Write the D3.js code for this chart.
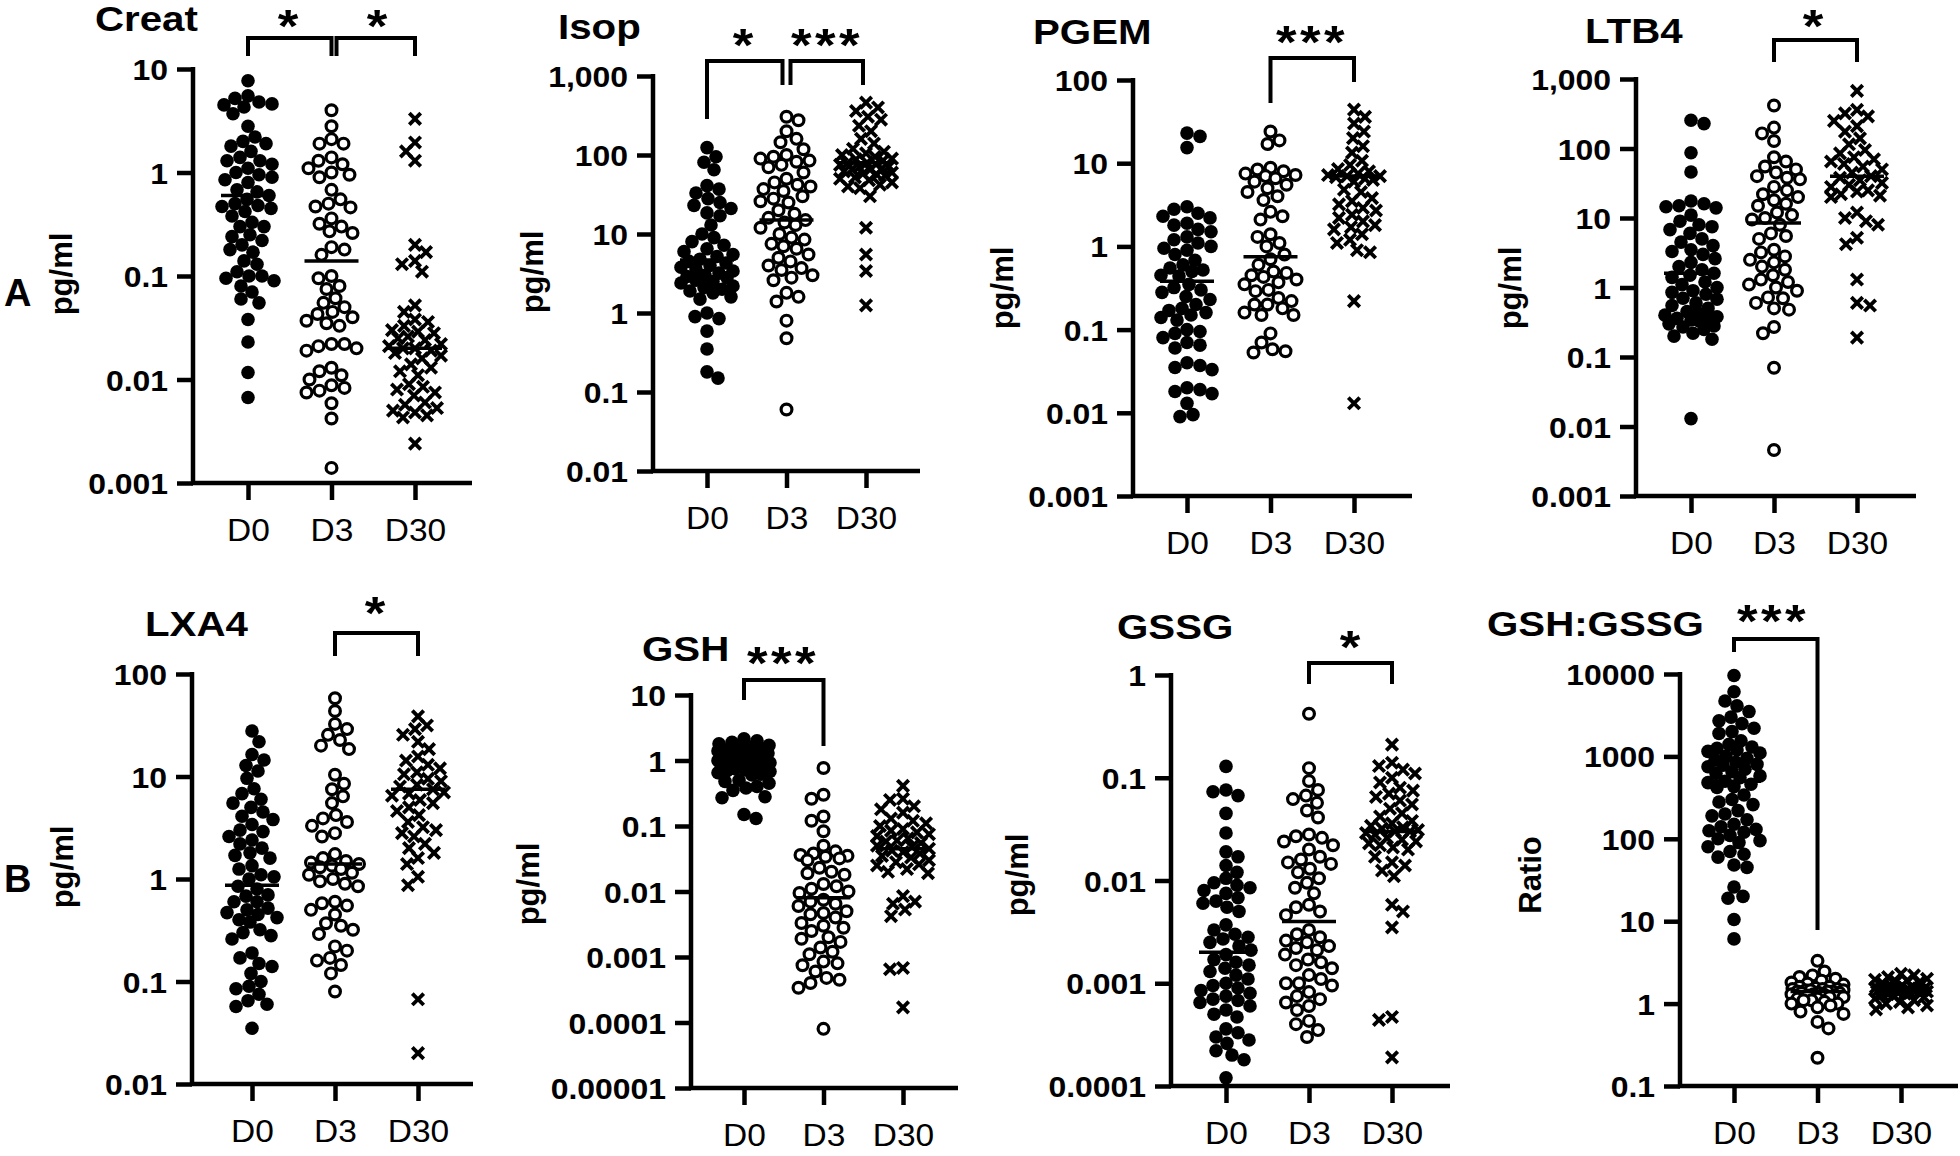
<!DOCTYPE html>
<html><head><meta charset="utf-8">
<script src="https://cdn.jsdelivr.net/npm/d3@7"></script>
<style>body{margin:0;background:#fff}svg{display:block}text{font-family:"Liberation Sans",Arial,sans-serif;fill:#000}</style>
</head><body>
<svg id="chart" width="1960" height="1156"></svg>
<script>
const categories = ["D0","D3","D30"];

// ---- Creat ----
const creatD0 = [7.7,5.5,5.2,4.8,4.6,4.5,4.3,3.7,2.8,2.2,2.0,1.9,1.8,1.6,1.4,1.3,1.3,1.2,1.1,1.0,0.95,0.9,0.85,0.8,0.68,0.65,0.6,0.55,0.5,0.48,0.47,0.45,0.42,0.38,0.33,0.3,0.3,0.25,0.24,0.22,0.2,0.18,0.17,0.14,0.13,0.11,0.1,0.1,0.095,0.09,0.08,0.07,0.06,0.055,0.038,0.023,0.0117,0.0067];
const creatD3 = [4.0,2.8,2.1,1.9,1.9,1.4,1.3,1.2,1.1,1.0,0.95,0.9,0.68,0.55,0.5,0.47,0.46,0.36,0.32,0.3,0.27,0.26,0.19,0.18,0.16,0.1,0.095,0.08,0.075,0.061,0.055,0.05,0.045,0.043,0.04,0.037,0.035,0.033,0.022,0.022,0.021,0.02,0.019,0.013,0.012,0.011,0.01,0.0088,0.0083,0.0078,0.0075,0.0059,0.0042,0.0014];
const creatD30 = [3.3,1.95,1.6,1.3,0.2,0.17,0.14,0.13,0.11,0.052,0.045,0.038,0.036,0.033,0.03,0.029,0.028,0.026,0.025,0.024,0.022,0.021,0.02,0.02,0.019,0.018,0.017,0.016,0.014,0.013,0.012,0.011,0.009,0.0085,0.008,0.0075,0.007,0.006,0.0057,0.0053,0.005,0.0048,0.0045,0.0043,0.0024];
const creatMedian = [0.6,0.14,0.02];
const creatTickValues = [0.001,0.01,0.1,1,10];
const creatTickLabels = ["0.001","0.01","0.1","1","10"];

// ---- Isop ----
const isopD0 = [124,95,81,65,41,37,33,28,25,23,21,18.5,17,13,10,9,8,7.2,6.5,6,5.5,5.2,4.8,4.5,4.3,4.0,3.8,3.6,3.4,3.2,3.0,2.9,2.8,2.6,2.5,2.4,2.2,2.1,2.0,1.9,1.8,1.6,1.5,1.0,0.9,0.85,0.59,0.35,0.18,0.15];
const isopD3 = [305,275,200,160,145,118,100,95,90,85,82,75,70,60,50,45,42,40,37,35,30,28,26,25,20,18,16,15,14,13,12,10,9,8.5,7.5,7,6.5,5.5,5,4.5,4,3.7,3.5,3,2.8,2.6,1.8,1.6,1.4,0.8,0.48,0.06];
const isopD30 = [460,400,360,305,280,235,200,160,140,120,110,105,100,95,90,88,85,80,78,76,75,72,70,68,66,65,62,60,58,56,55,52,50,48,45,42,40,38,30,12,5.5,3.4,1.25];
const isopMedian = [4.7,15,80];
const isopTickValues = [0.01,0.1,1,10,100,1000];
const isopTickLabels = ["0.01","0.1","1","10","100","1,000"];

// ---- PGEM ----
const pgemD0 = [23,21,15.4,3.0,2.8,2.5,2.3,2.2,1.9,1.8,1.6,1.5,1.3,1.2,1.1,1.0,0.95,0.9,0.8,0.68,0.6,0.55,0.52,0.5,0.45,0.44,0.35,0.32,0.3,0.28,0.25,0.23,0.2,0.18,0.17,0.16,0.15,0.14,0.13,0.1,0.095,0.09,0.08,0.07,0.065,0.06,0.04,0.037,0.035,0.033,0.02,0.019,0.018,0.017,0.013,0.0095,0.009];
const pgemD3 = [24,18.8,17,8.8,8.4,8.0,7.5,7.2,7.0,6.6,6,5.5,5,4.5,4,3.6,2.6,2.3,2.1,1.4,1.3,1.1,1.0,0.8,0.7,0.6,0.5,0.48,0.45,0.43,0.4,0.37,0.35,0.3,0.29,0.24,0.22,0.2,0.2,0.18,0.16,0.15,0.15,0.09,0.07,0.058,0.055,0.053];
const pgemD30 = [44,36,30,24,20,16,13.4,10.7,9.5,8.5,8,7.5,7.2,7,7,6.8,6.5,6.3,6.0,4.8,4.5,3.8,3.5,3.2,2.9,2.7,2.4,2.2,2.0,1.8,1.7,1.6,1.4,1.2,1.1,0.9,0.85,0.22,0.013];
const pgemMedian = [0.38,0.75,7];
const pgemTickValues = [0.001,0.01,0.1,1,10,100];
const pgemTickLabels = ["0.001","0.01","0.1","1","10","100"];

// ---- LTB4 ----
const ltb4D0 = [255,228,87,46,17.6,16,15,14.5,14,11,9,8,7.5,6.8,6,5,4.5,4,3.5,3.3,3,2.6,2.3,2,1.8,1.6,1.5,1.4,1.2,1.1,1.0,0.9,0.85,0.8,0.7,0.68,0.6,0.55,0.5,0.45,0.43,0.4,0.38,0.36,0.35,0.34,0.33,0.3,0.28,0.27,0.25,0.22,0.2,0.18,0.013];
const ltb4D3 = [415,200,165,128,75,65,55,50,45,40,38,36,28,25,22,20,18,16,15,12,11,10,9.5,8,6,5.5,5,3.5,3.2,2.8,2.5,2.3,2.0,1.8,1.5,1.3,1.2,1.1,1.0,0.9,0.72,0.7,0.6,0.5,0.48,0.27,0.22,0.07,0.0046];
const ltb4D30 = [675,360,320,290,250,210,175,140,115,95,85,75,70,65,60,55,50,45,40,38,35,32,30,28,25,24,22,21,20,12,10,9,8,5.2,4.2,1.3,0.6,0.55,0.19];
const ltb4Median = [1.6,8.5,40];
const ltb4TickValues = [0.001,0.01,0.1,1,10,100,1000];
const ltb4TickLabels = ["0.001","0.01","0.1","1","10","100","1,000"];

// ---- LXA4 ----
const lxa4D0 = [27.8,21.8,16.4,14.5,12.8,11.3,9.6,7.6,6.8,6.0,5.5,5.0,4.5,4.1,3.8,3.4,3.0,2.9,2.6,2.4,2.2,2.0,1.8,1.7,1.6,1.35,1.25,1.1,1.05,1.0,0.85,0.8,0.7,0.68,0.6,0.6,0.52,0.5,0.47,0.45,0.42,0.4,0.38,0.32,0.3,0.28,0.26,0.19,0.17,0.15,0.14,0.12,0.1,0.09,0.085,0.075,0.065,0.06,0.057,0.035];
const lxa4D3 = [58,43.5,32.6,29,25.5,22.7,20,18.5,10.4,8.5,7.5,6.4,5.5,4.2,3.9,3.6,3.3,2.8,2.6,1.75,1.6,1.5,1.45,1.4,1.35,1.3,1.25,1.15,1.1,1.0,0.95,0.9,0.85,0.6,0.58,0.55,0.5,0.45,0.37,0.35,0.32,0.29,0.22,0.2,0.17,0.16,0.145,0.12,0.08];
const lxa4D30 = [38.6,31.5,29,25.5,21.8,18.5,15.7,14.3,13,12,11,10.5,9.5,9,8.3,8,7.5,7,6.8,6.5,5.9,5.5,5,4.6,4.2,3.6,3.2,3,2.8,2.6,2.2,2.0,1.8,1.6,1.4,1.05,0.87,0.067,0.02];
const lxa4Median = [0.87,1.4,7.5];
const lxa4TickValues = [0.01,0.1,1,10,100];
const lxa4TickLabels = ["0.01","0.1","1","10","100"];

// ---- GSH ----
const gshD0 = [2.15,2.0,1.9,1.8,1.7,1.6,1.55,1.5,1.45,1.4,1.35,1.3,1.3,1.25,1.2,1.2,1.15,1.1,1.1,1.05,1.0,1.0,1.0,0.98,0.95,0.95,0.92,0.9,0.9,0.88,0.85,0.82,0.8,0.75,0.72,0.7,0.68,0.65,0.62,0.6,0.5,0.48,0.45,0.4,0.38,0.35,0.28,0.27,0.15,0.13];
const gshD3 = [0.77,0.3,0.26,0.14,0.12,0.083,0.05,0.041,0.038,0.036,0.035,0.034,0.032,0.03,0.023,0.02,0.019,0.018,0.013,0.012,0.011,0.01,0.0095,0.0075,0.007,0.0065,0.006,0.005,0.0047,0.0045,0.004,0.0033,0.003,0.0028,0.0025,0.002,0.0019,0.0017,0.0014,0.0012,0.0011,0.00085,0.0008,0.00075,0.0006,0.00048,0.00045,0.0004,0.00034,0.00008];
const gshD30 = [0.41,0.26,0.25,0.2,0.18,0.16,0.13,0.12,0.11,0.1,0.09,0.085,0.08,0.075,0.07,0.065,0.06,0.058,0.055,0.05,0.048,0.045,0.042,0.04,0.038,0.035,0.033,0.03,0.028,0.026,0.025,0.022,0.02,0.019,0.0085,0.007,0.0065,0.0053,0.0042,0.00068,0.00065,0.00017];
const gshMedian = [1.0,0.008,0.045];
const gshTickValues = [0.00001,0.0001,0.001,0.01,0.1,1,10];
const gshTickLabels = ["0.00001","0.0001","0.001","0.01","0.1","1","10"];

// ---- GSSG ----
const gssgD0 = [0.129,0.076,0.073,0.067,0.045,0.029,0.019,0.017,0.014,0.012,0.0105,0.0095,0.009,0.0085,0.008,0.0075,0.0068,0.0063,0.006,0.0055,0.005,0.0037,0.0033,0.003,0.0028,0.0027,0.0025,0.0023,0.0021,0.0019,0.0017,0.0016,0.0015,0.0014,0.0013,0.0012,0.0011,0.001,0.00095,0.0009,0.00085,0.0008,0.00075,0.0007,0.00068,0.00065,0.0006,0.00055,0.0005,0.00047,0.00036,0.00033,0.0003,0.00028,0.00026,0.00022,0.0002,0.00018,0.00012];
const gssgD3 = [0.42,0.124,0.093,0.076,0.067,0.062,0.057,0.048,0.041,0.028,0.027,0.026,0.024,0.022,0.02,0.017,0.016,0.015,0.0145,0.013,0.012,0.0105,0.0095,0.0085,0.0075,0.0058,0.0055,0.005,0.0046,0.0033,0.003,0.0028,0.0026,0.0025,0.0023,0.0022,0.0021,0.0019,0.0017,0.0016,0.0015,0.0014,0.0012,0.0011,0.001,0.001,0.00095,0.00082,0.00075,0.0007,0.00065,0.0006,0.00055,0.00043,0.0004,0.00035,0.0003];
const gssgD30 = [0.21,0.14,0.13,0.12,0.11,0.1,0.09,0.08,0.075,0.07,0.065,0.06,0.055,0.05,0.045,0.042,0.038,0.036,0.034,0.033,0.032,0.031,0.03,0.03,0.029,0.028,0.026,0.025,0.024,0.023,0.022,0.021,0.02,0.017,0.015,0.014,0.0125,0.011,0.0058,0.005,0.0035,0.00047,0.00044,0.00019];
const gssgMedian = [0.002,0.004,0.03];
const gssgTickValues = [0.0001,0.001,0.01,0.1,1];
const gssgTickLabels = ["0.0001","0.001","0.01","0.1","1"];

// ---- GSH:GSSG ----
const ratioD0 = [9600,6100,4700,4100,3500,3000,2700,2500,2200,2000,1900,1550,1400,1300,1250,1200,1150,1100,1000,950,900,850,800,780,750,700,650,620,580,550,500,480,460,430,420,340,300,280,260,220,200,190,170,150,140,130,125,120,110,100,95,90,80,70,65,60,48,45,26,20,19,10.5,6.1];
const ratioD3 = [3.3,2.45,2.2,2.1,2.0,1.9,1.8,1.75,1.7,1.6,1.6,1.55,1.5,1.5,1.5,1.45,1.45,1.45,1.4,1.4,1.4,1.35,1.35,1.35,1.3,1.3,1.3,1.25,1.25,1.2,1.2,1.15,1.15,1.1,1.1,1.05,1.0,1.0,0.95,0.9,0.8,0.75,0.6,0.5,0.22];
const ratioD30 = [2.3,2.2,2.1,2.0,1.95,1.9,1.85,1.8,1.75,1.7,1.65,1.6,1.6,1.58,1.55,1.52,1.5,1.5,1.5,1.48,1.45,1.45,1.42,1.4,1.4,1.38,1.35,1.35,1.32,1.3,1.28,1.25,1.2,1.15,1.1,1.05,1.0,0.95,0.9,0.85];
const ratioMedian = [500,1.4,1.5];
const ratioTickValues = [0.1,1,10,100,1000,10000];
const ratioTickLabels = ["0.1","1","10","100","1000","10000"];

const titles = ["Creat","Isop","PGEM","LTB4","LXA4","GSH","GSSG","GSH:GSSG"];
const yTitles = ["pg/ml","pg/ml","pg/ml","pg/ml","pg/ml","pg/ml","pg/ml","Ratio"];
const stars = [["*","*"],["*","***"],["***"],["*"],["*"],["***"],["*"],["***"]];

// ---------- layout (positions only) ----------
const layouts = [
 {ax:193,yTop:69,yBot:483,xEnd:472,c0:248,c2:415,tx:95,ty:31,lx:61,ly:274,
  br:[{a:0,b:1,oa:0,ob:0,y:38,la:56,lb:56,sx:288,sy:17},{a:1,b:2,oa:5,ob:0,y:38,la:56,lb:56,sx:377,sy:17}]},
 {ax:653,yTop:76,yBot:471,xEnd:920,c0:707,c2:866,tx:558,ty:39,lx:532,ly:272,
  br:[{a:0,b:1,oa:0,ob:-4,y:61,la:119,lb:85,sx:743,sy:36},{a:1,b:2,oa:4,ob:-3,y:61,la:85,lb:85,sx:827,sy:36}]},
 {ax:1133,yTop:80,yBot:496,xEnd:1412,c0:1187,c2:1354,tx:1033,ty:44,lx:1002,ly:288,
  br:[{a:1,b:2,oa:0,ob:0,y:58,la:103,lb:82,sx:1312,sy:33}]},
 {ax:1636,yTop:79,yBot:496,xEnd:1916,c0:1691,c2:1857,tx:1585,ty:43,lx:1510,ly:288,
  br:[{a:1,b:2,oa:0,ob:0,y:40,la:62,lb:62,sx:1813,sy:17}]},
 {ax:192,yTop:674,yBot:1084,xEnd:473,c0:252,c2:418,tx:145,ty:636,lx:62,ly:867,
  br:[{a:1,b:2,oa:0,ob:0,y:633,la:656,lb:656,sx:375,sy:604}]},
 {ax:691,yTop:695,yBot:1088,xEnd:958,c0:744,c2:903,tx:642,ty:661,lx:528,ly:884,
  br:[{a:0,b:1,oa:0,ob:0,y:680,la:700,lb:746,sx:783,sy:654}]},
 {ax:1171,yTop:675,yBot:1086,xEnd:1450,c0:1226,c2:1392,tx:1117,ty:639,lx:1017,ly:875,
  br:[{a:1,b:2,oa:0,ob:0,y:663,la:684,lb:684,sx:1350,sy:638}]},
 {ax:1680,yTop:674,yBot:1086,xEnd:1958,c0:1734,c2:1901,tx:1487,ty:636,lx:1530,ly:875,
  br:[{a:0,b:1,oa:0,ob:0,y:639,la:652,lb:930,sx:1773,sy:612}]}
];

const panelData = [
 {series:[creatD0,creatD3,creatD30], med:creatMedian, tv:creatTickValues, tl:creatTickLabels},
 {series:[isopD0,isopD3,isopD30], med:isopMedian, tv:isopTickValues, tl:isopTickLabels},
 {series:[pgemD0,pgemD3,pgemD30], med:pgemMedian, tv:pgemTickValues, tl:pgemTickLabels},
 {series:[ltb4D0,ltb4D3,ltb4D30], med:ltb4Median, tv:ltb4TickValues, tl:ltb4TickLabels},
 {series:[lxa4D0,lxa4D3,lxa4D30], med:lxa4Median, tv:lxa4TickValues, tl:lxa4TickLabels},
 {series:[gshD0,gshD3,gshD30], med:gshMedian, tv:gshTickValues, tl:gshTickLabels},
 {series:[gssgD0,gssgD3,gssgD30], med:gssgMedian, tv:gssgTickValues, tl:gssgTickLabels},
 {series:[ratioD0,ratioD3,ratioD30], med:ratioMedian, tv:ratioTickValues, tl:ratioTickLabels}
];

const svg = d3.select("#chart");
svg.append("rect").attr("width",1960).attr("height",1156).attr("fill","#fff");

function txt(g,x,y,s,o){
  const t = g.append("text").attr("transform",`translate(${x},${y}) scale(${o.sx||1},1)`)
    .attr("font-size",o.size).attr("font-weight",o.weight||"normal")
    .attr("text-anchor",o.anchor||"start").text(s);
  if (o.ls) t.attr("letter-spacing",o.ls);
  return t;
}

function swarm(vals, y, cx, minD, maxHalf){
  const pts = vals.map(v=>({v, py:y(v)})).sort((a,b)=>a.py-b.py);
  const placed=[];
  pts.forEach((p,i)=>{
    let best=0, bestScore=-1;
    outer:
    for (let k=0;k<=maxHalf;k+=1){
      const signs = k===0?[1]:(i%2?[1,-1]:[-1,1]);
      for (const s of signs){
        const dx=s*k; let md=Infinity;
        for (const q of placed){
          const dyy=q.py-p.py; if (Math.abs(dyy)>=minD) continue;
          const d=Math.hypot(q.dx-dx,dyy); if (d<md) md=d;
        }
        if (md>=minD){best=dx;bestScore=Infinity;break outer;}
        if (md>bestScore){bestScore=md;best=dx;}
      }
    }
    p.dx=best; placed.push(p);
  });
  return pts.map(p=>({v:p.v, px:cx+p.dx, py:p.py}));
}

const FONT = "Liberation Sans, Arial, sans-serif";

layouts.forEach((L,pi)=>{
  const D = panelData[pi];
  const g = svg.append("g");
  const y = d3.scaleLog().domain([D.tv[0], D.tv[D.tv.length-1]]).range([L.yBot, L.yTop]);
  const x = d3.scalePoint().domain(categories).range([L.c0, L.c2]);

  // y axis
  const yAxis = d3.axisLeft(y).tickValues(D.tv).tickFormat((d,i)=>D.tl[i]).tickSize(16).tickSizeOuter(0);
  const ga = g.append("g").attr("transform",`translate(${L.ax},0)`).call(yAxis);
  ga.select(".domain").attr("stroke","#000").attr("stroke-width",4.5).attr("d",`M0,${L.yTop-2}V${L.yBot+2}`);
  ga.selectAll(".tick line").attr("stroke","#000").attr("stroke-width",4.5);
  ga.selectAll(".tick text").each(function(){
    d3.select(this).attr("x",null).attr("dy",null).attr("transform","translate(-25,10.5) scale(1.1,1)")
     .attr("font-size",29).attr("font-weight","bold").attr("fill","#000").attr("font-family",FONT);
  });

  // x axis
  g.append("line").attr("x1",L.ax-2).attr("x2",L.xEnd).attr("y1",L.yBot).attr("y2",L.yBot)
   .attr("stroke","#000").attr("stroke-width",4.5);
  const xAxis = d3.axisBottom(x).tickSize(17).tickSizeOuter(0);
  const gx = g.append("g").attr("transform",`translate(0,${L.yBot})`).call(xAxis);
  gx.select(".domain").remove();
  gx.selectAll(".tick line").attr("stroke","#000").attr("stroke-width",4.5);
  gx.selectAll(".tick text").each(function(){
    d3.select(this).attr("y",null).attr("dy",null).attr("transform","translate(0,58) scale(1.08,1)")
     .attr("font-size",31).attr("fill","#000").attr("font-family",FONT);
  });

  // points
  D.series.forEach((vals,si)=>{
    const pts = swarm(vals, y, x(categories[si]), 12.5, 26);
    const pg = g.append("g");
    if (si===0){
      pg.selectAll("circle").data(pts).join("circle").attr("cx",d=>d.px).attr("cy",d=>d.py)
        .attr("r",6.8).attr("fill","#000");
    } else if (si===1){
      pg.selectAll("circle").data(pts).join("circle").attr("cx",d=>d.px).attr("cy",d=>d.py)
        .attr("r",5.4).attr("fill","#fff").attr("stroke","#000").attr("stroke-width",3.2);
    } else {
      pg.selectAll("path").data(pts).join("path")
        .attr("d",d=>`M${d.px-5.7},${d.py-5.7}L${d.px+5.7},${d.py+5.7}M${d.px-5.7},${d.py+5.7}L${d.px+5.7},${d.py-5.7}`)
        .attr("stroke","#000").attr("stroke-width",3.8).attr("fill","none");
    }
  });
  // medians
  g.selectAll("line.med").data(D.med).join("line").attr("class","med")
   .attr("x1",(d,i)=>x(categories[i])-27).attr("x2",(d,i)=>x(categories[i])+27)
   .attr("y1",d=>y(d)).attr("y2",d=>y(d)).attr("stroke","#000").attr("stroke-width",3.5);

  // brackets
  L.br.forEach((b,bi)=>{
    const xa = x(categories[b.a])+b.oa, xb = x(categories[b.b])+b.ob;
    g.append("path").attr("d",`M${xa},${b.la}V${b.y}H${xb}V${b.lb}`)
     .attr("fill","none").attr("stroke","#000").attr("stroke-width",4);
    const s = stars[pi][bi];
    txt(g,b.sx,b.sy+25,s,{size:46,weight:"bold",anchor:"middle",sx:1.15,ls:s.length>1?3:0});
  });

  // titles
  txt(g,L.tx,L.ty,titles[pi],{size:35,weight:"bold",sx:1.15});
  g.append("text").attr("transform",`translate(${L.lx},${L.ly}) rotate(-90)`)
   .attr("text-anchor","middle").attr("dy","0.35em").attr("font-size",31).attr("font-weight","bold").text(yTitles[pi]);
});

txt(svg,4,306,"A",{size:38,weight:"bold"});
txt(svg,4,892,"B",{size:38,weight:"bold"});
</script>
</body></html>
